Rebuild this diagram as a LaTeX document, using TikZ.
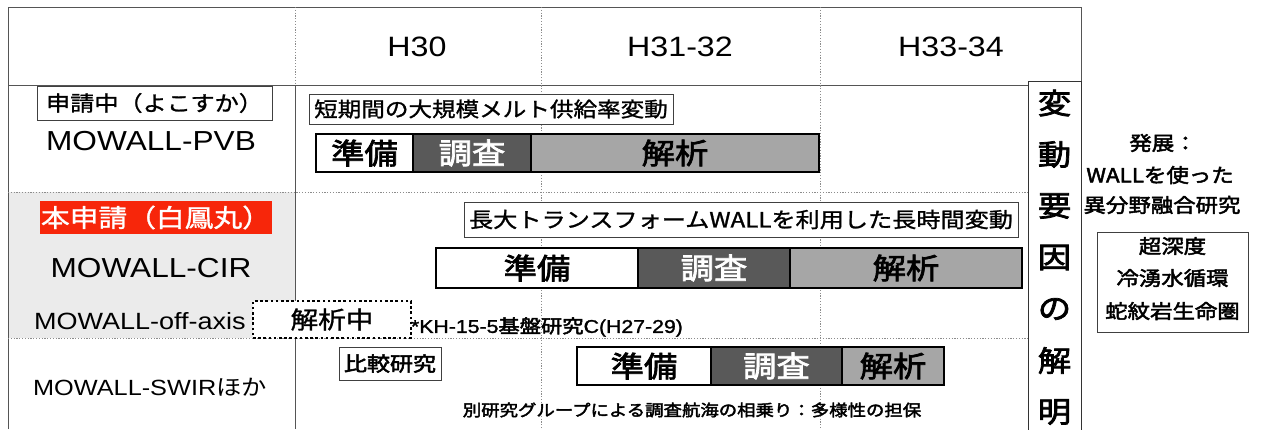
\documentclass[tikz,border=0pt]{standalone}
\usepackage{fontspec}
\setmainfont{Liberation Sans}[FakeStretch=1.15]
\newfontfamily\jp{Noto Sans CJK JP}[FakeStretch=1.15]
\newfontfamily\jpb{Noto Sans CJK JP}[FakeStretch=1.15, FakeBold=2.5]
\newfontfamily\jpm{Noto Sans CJK JP}[FakeStretch=1.15, FakeBold=1.2]
\newfontfamily\latb{Liberation Sans}[FakeStretch=1.15, FakeBold=1.5]
\newcommand\fsz[1]{\fontsize{#1}{#1}\selectfont}
\definecolor{darkseg}{HTML}{595959}
\definecolor{midseg}{HTML}{A6A6A6}
\definecolor{redbox}{HTML}{F7260A}
\definecolor{lblbg}{HTML}{EBEBEB}
\definecolor{framec}{HTML}{555555}
\tikzset{
  frame/.style={draw=framec, line width=1pt},
  gridline/.style={draw=black!45, line width=0.8pt, dash pattern=on 1.2pt off 1.6pt},
  txt/.style={inner sep=0pt, outer sep=0pt},
  tbox/.style={draw=black!75, line width=1pt, fill=white, inner sep=0pt},
  seg/.style={draw=black, line width=2.4pt, inner sep=0pt, font=\jpb\fsz{29}},
  vchar/.style={inner sep=0pt, font=\jpb\fsz{29}},
  rtxt/.style={inner sep=0pt, font=\jpb\fsz{19.5}},
}
\begin{document}
\begin{tikzpicture}[x=1pt,y=-1pt]
\useasboundingbox (0,0) rectangle (1268,429);
% label column background
\fill[lblbg] (8,192) rectangle (295,338);
% grid
\draw[frame] (8,429) -- (8,7) -- (1081,7) -- (1081,85);
\draw[frame] (8,85) -- (1028,85);
\draw[gridline] (295,7) -- (295,85);
\draw[frame] (295,85) -- (295,429);
\draw[gridline] (541,7) -- (541,429);
\draw[gridline] (820,7) -- (820,429);
\draw[gridline] (8,192) -- (1028,192);
\draw[gridline] (8,338) -- (1028,338);

% header
\node[txt, font=\fsz{28}] (h30) at (417,47) {H30};
\node[txt, font=\fsz{28}] (h3132) at (680,47) {H31-32};
\node[txt, font=\fsz{28}] (h3334) at (951,47) {H33-34};

% row 1
\node[tbox, minimum width=235, minimum height=34, font=\jpm\fsz{21}] (app1) at (154.5,103) {申請中（よこすか）};
\node[txt, font=\fsz{27.5}] (pvb) at (151,141) {MOWALL-PVB};
\node[tbox, minimum width=364, minimum height=30, font=\jpm\fsz{20.5}] (t1) at (491,109) {短期間の大規模メルト供給率変動};
\node[seg, fill=white, minimum width=97, minimum height=38] (p1) at (364.5,153) {準備};
\node[seg, fill=midseg, minimum width=288, minimum height=38] (a1) at (675,153) {解析};
\node[seg, fill=darkseg, text=white, minimum width=118, minimum height=38] (s1) at (472,153) {調査};

% row 2
\node[fill=redbox, inner sep=0pt, minimum width=232, minimum height=33, text=white, font=\jpm\fsz{25}] (app2) at (156,217.5) {本申請（白鳳丸）};
\node[txt, font=\fsz{27.5}] (cir) at (151,268) {MOWALL-CIR};
\node[tbox, minimum width=554, minimum height=35, font=\jpm\fsz{21}] (t2) at (741,219.5) {長大トランスフォームWALLを利用した長時間変動};
\node[seg, fill=white, minimum width=202, minimum height=40] (p2) at (537,268) {準備};
\node[seg, fill=midseg, minimum width=232, minimum height=40] (a2) at (906,268) {解析};
\node[seg, fill=darkseg, text=white, minimum width=152, minimum height=40] (s2) at (714,268) {調査};

% off-axis
\node[txt, anchor=west, font=\fsz{23.5}] (off) at (34,321) {MOWALL-off-axis};
\node[draw=black, fill=white, line width=2.6pt, dash pattern=on 2.6pt off 2.6pt, inner sep=0pt, minimum width=158, minimum height=37, font=\jpm\fsz{24}] (ana) at (332,319.5) {解析中};
\node[txt, anchor=west, font=\latb\fsz{18.5}] (kh) at (411,327) {*KH-15-5{\jpb 基盤研究}C(H27-29)};

% row 3
\node[txt, font=\fsz{22}] (swir) at (150,387) {MOWALL-SWIR{\jp ほか}};
\node[tbox, minimum width=102, minimum height=33, font=\jpb\fsz{20}] (cmp) at (390,363.5) {比較研究};
\node[seg, fill=white, minimum width=134, minimum height=38] (p3) at (644,366) {準備};
\node[seg, fill=midseg, minimum width=102, minimum height=38] (a3) at (893,366) {解析};
\node[seg, fill=darkseg, text=white, minimum width=131, minimum height=38] (s3) at (776.5,366) {調査};
\node[txt, font=\jpb\fsz{16}] (note) at (692,410) {別研究グループによる調査航海の相乗り：多様性の担保};

% vertical box
\node[draw=black!80, fill=white, line width=1pt, inner sep=0pt, minimum width=53, minimum height=360, anchor=north] (vbox) at (1054.5,81) {};
\foreach \c [count=\i] in {変,動,要,因,の,解,明}{
  \node[vchar] (v\i) at (1054.5,{103+51.5*(\i-1)}) {\c};
}

% right column
\node[rtxt] (r1) at (1163,143) {発展：};
\node[rtxt] (r2) at (1160,175) {WALLを使った};
\node[rtxt] (r3) at (1162,205) {異分野融合研究};
\node[draw=black!75, line width=1pt, inner sep=0pt, minimum width=151, minimum height=100] (rbox) at (1172.5,282) {};
\node[rtxt] (r4) at (1172.5,246) {超深度};
\node[rtxt] (r5) at (1172.5,278) {冷湧水循環};
\node[rtxt] (r6) at (1172.5,311) {蛇紋岩生命圏};
\end{tikzpicture}
\end{document}
